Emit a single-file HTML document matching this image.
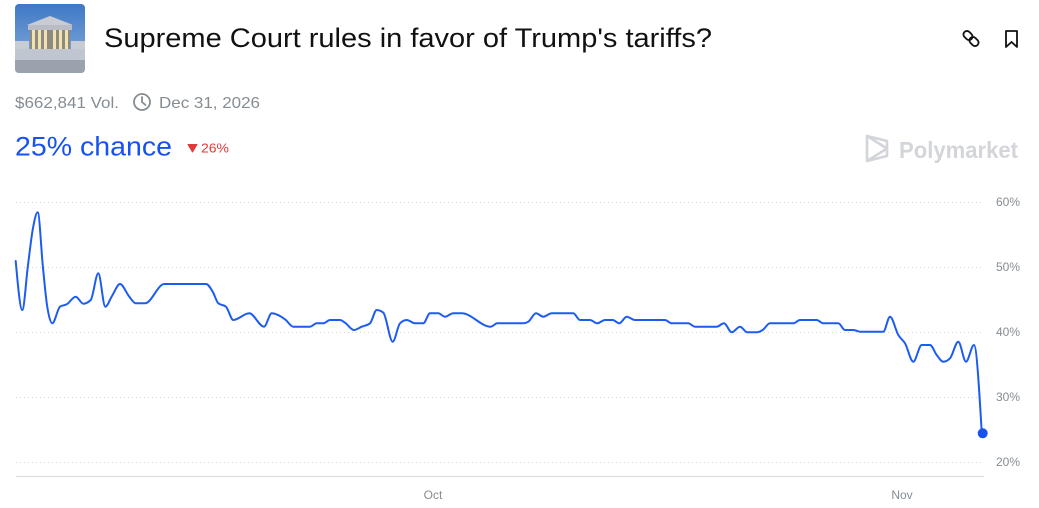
<!DOCTYPE html>
<html><head><meta charset="utf-8"><style>
html,body{margin:0;padding:0;background:#fff;width:1039px;height:508px;overflow:hidden}
svg{display:block}
text{font-family:"Liberation Sans",sans-serif}
</style></head><body>
<svg width="1039" height="508" viewBox="0 0 1039 508" xmlns="http://www.w3.org/2000/svg">
<defs>
<linearGradient id="sky" x1="0" y1="0" x2="0" y2="1"><stop offset="0" stop-color="#3f78c6"/><stop offset="1" stop-color="#8db3dc"/></linearGradient>
<clipPath id="thumb"><rect x="15" y="4" width="70" height="69" rx="4"/></clipPath>
</defs>
<g clip-path="url(#thumb)">
<rect x="15" y="4" width="70" height="69" fill="url(#sky)"/>
<polygon points="27,25 50,16 73,25" fill="#c9ccd2"/>
<rect x="28" y="25" width="44" height="5" fill="#b9bcc4"/>
<rect x="30" y="30" width="40" height="19" fill="#8d8a80"/>
<g fill="#f1e2b0"><rect x="32" y="30" width="3" height="19"/><rect x="38" y="30" width="3" height="19"/><rect x="44" y="30" width="3" height="19"/><rect x="53" y="30" width="3" height="19"/><rect x="59" y="30" width="3" height="19"/><rect x="65" y="30" width="3" height="19"/></g>
<rect x="15" y="41" width="14" height="12" fill="#c8ccd4"/><rect x="71" y="41" width="14" height="12" fill="#c8ccd4"/>
<rect x="15" y="49" width="70" height="11" fill="#c0c6d0"/>
<rect x="15" y="60" width="70" height="13" fill="#9aa2ae"/>
</g>
<text x="104" y="47" font-size="27" fill="#111" textLength="608" lengthAdjust="spacingAndGlyphs">Supreme Court rules in favor of Trump's tariffs?</text>
<g fill="none" stroke="#111" stroke-width="1.8">
<rect x="963" y="32" width="10" height="7" rx="3.5" transform="rotate(45 968 35.5)"/>
<rect x="969" y="38" width="10" height="7" rx="3.5" transform="rotate(45 974 41.5)"/>
<path d="M1006,31 h11 v16 l-5.5,-5 l-5.5,5 Z" stroke-linejoin="round"/>
</g>
<text x="15" y="108" font-size="16" fill="#858d92" textLength="104" lengthAdjust="spacingAndGlyphs">$662,841 Vol.</text>
<circle cx="142" cy="102" r="8" fill="none" stroke="#858d92" stroke-width="1.8"/>
<path d="M142,97 V102 L145.5,105" fill="none" stroke="#858d92" stroke-width="1.8" stroke-linecap="round"/>
<text x="159" y="108" font-size="16" fill="#858d92" textLength="101" lengthAdjust="spacingAndGlyphs">Dec 31, 2026</text>
<text x="15" y="155.5" font-size="27" fill="#1652f0" textLength="157" lengthAdjust="spacingAndGlyphs">25% chance</text>
<path d="M188,144.5 L197,144.5 L192.5,152 Z" fill="#e23939" stroke="#e23939" stroke-width="1" stroke-linejoin="round"/>
<text x="201" y="152.5" font-size="13" fill="#e23939" textLength="28" lengthAdjust="spacingAndGlyphs">26%</text>
<g fill="none" stroke="#d3d5da" stroke-width="2.6" stroke-linejoin="round">
<path d="M867,136 L887,141 L887,156 L867,161 Z"/>
<path d="M867,136 L887,148.5 L867,161"/>
</g>
<text x="899" y="158" font-size="23" font-weight="bold" fill="#d3d5da" textLength="119" lengthAdjust="spacingAndGlyphs">Polymarket</text>
<g stroke="#d6d6d6" stroke-width="1" stroke-dasharray="1 3">
<line x1="16" y1="202.5" x2="984" y2="202.5"/>
<line x1="16" y1="267.5" x2="984" y2="267.5"/>
<line x1="16" y1="332.5" x2="984" y2="332.5"/>
<line x1="16" y1="397.5" x2="984" y2="397.5"/>
<line x1="16" y1="462.5" x2="984" y2="462.5"/>
</g>
<line x1="16" y1="476.5" x2="984" y2="476.5" stroke="#dedede" stroke-width="1.2"/>
<g font-size="12" fill="#858d92">
<text x="996" y="206">60%</text>
<text x="996" y="271">50%</text>
<text x="996" y="336">40%</text>
<text x="996" y="401">30%</text>
<text x="996" y="466">20%</text>
<text x="433" y="499" text-anchor="middle">Oct</text>
<text x="902" y="499" text-anchor="middle">Nov</text>
</g>
<polyline id="series" fill="none" stroke="#1d5cf0" stroke-width="2" stroke-linejoin="round" stroke-linecap="round" points="15.7,261 22.3,310 28,265 33,228 37.7,212.3 43,268 47,305 52.3,323.3 60,306.7 66.7,304.3 75.7,296.7 83.3,303.7 90.7,300 98.3,273.3 105.3,306.7 112,296 120,284 129.3,296.7 135.7,303.3 145,303.3 164.3,284 206,284 212.7,291.7 218.3,303.3 226,306.7 233.3,320 249.3,313.3 264,326.7 271.7,313.3 285,319.3 293.3,326.7 310,326.7 316.7,323.3 323.3,323.3 330,320 340,320 345,322.7 354,330 361.7,326.7 370,323.3 376.7,310 383.3,312.7 392.7,341.7 400,323.3 406.7,320 415,323.3 423.3,323.3 430,313.3 438.3,313.3 445,316.7 453.3,313.3 461.7,313.3 490.7,326.7 497.3,323.3 523.3,323.3 528.3,321.7 536,313.3 543.3,316.7 551.7,313.3 573.3,313.3 580,320 590,320 597.3,323.3 605,320 612.7,320 619.3,323.3 626.7,316.7 635,320 665,320 671.7,323.3 688.3,323.3 695,326.7 716.7,326.7 724,323.3 731.7,332.3 740,326.7 747.3,332.3 756.7,332.3 762.7,330 770,323.3 793.3,323.3 800,320 816.7,320 823.3,323.3 838.3,323.3 845,330 853.3,330 860,331.7 883.3,331.7 890,316.7 898.3,335 905,343.3 913.3,361.7 921.7,345 930,345 936.7,355 943.3,361.7 950,358.3 958.3,341.7 966,361.7 974,345 981.7,431.7"/>
<circle cx="982.7" cy="433.3" r="5" fill="#1652f0"/>
</svg>
<script>
(function(){
var pl=document.getElementById('series');
var P=pl.getAttribute('points').trim().split(/\s+/).map(function(s){var a=s.split(',');return [+a[0],+a[1]];});
var n=P.length;
function sign(v){return v<0?-1:1;}
var t=new Array(n);
for(var i=1;i<n-1;i++){
var h0=P[i][0]-P[i-1][0],h1=P[i+1][0]-P[i][0];
var s0=(P[i][1]-P[i-1][1])/h0,s1=(P[i+1][1]-P[i][1])/h1;
var p=(s0*h1+s1*h0)/(h0+h1);
t[i]=(sign(s0)+sign(s1))*Math.min(Math.abs(s0),Math.abs(s1),0.5*Math.abs(p))||0;
}
var hA=P[1][0]-P[0][0];t[0]=(3*(P[1][1]-P[0][1])/hA-t[1])/2;
var hB=P[n-1][0]-P[n-2][0];t[n-1]=(3*(P[n-1][1]-P[n-2][1])/hB-t[n-2])/2;
var d='M'+P[0][0]+','+P[0][1];
for(var i=0;i<n-1;i++){
var dx=(P[i+1][0]-P[i][0])/3;
d+=' C'+(P[i][0]+dx).toFixed(2)+','+(P[i][1]+dx*t[i]).toFixed(2)+' '+(P[i+1][0]-dx).toFixed(2)+','+(P[i+1][1]-dx*t[i+1]).toFixed(2)+' '+P[i+1][0]+','+P[i+1][1];
}
var path=document.createElementNS('http://www.w3.org/2000/svg','path');
path.setAttribute('d',d);
['fill','stroke','stroke-width','stroke-linejoin','stroke-linecap'].forEach(function(a){path.setAttribute(a,pl.getAttribute(a));});
pl.parentNode.replaceChild(path,pl);
})();
</script>
</body></html>
